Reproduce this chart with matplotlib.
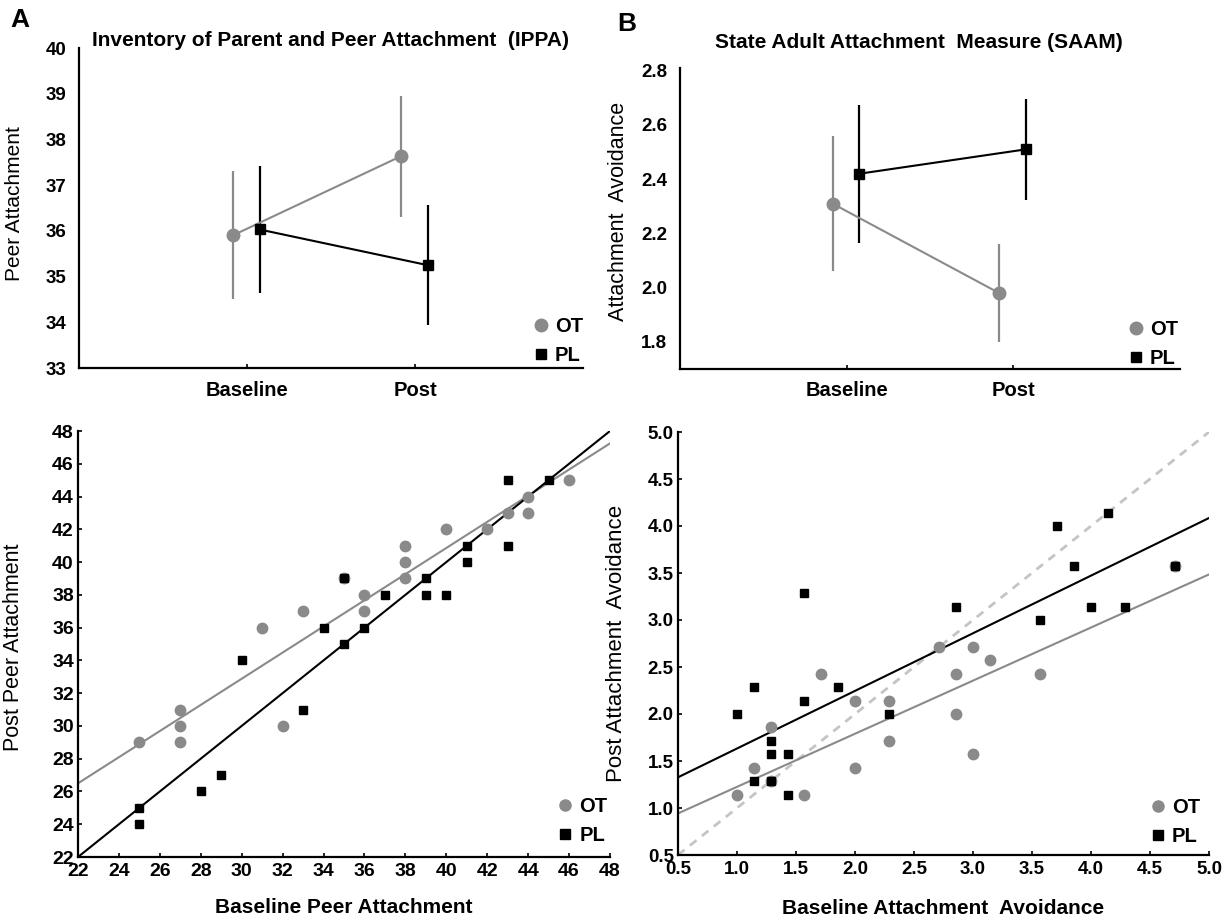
import numpy as np
import matplotlib.pyplot as plt
from matplotlib.lines import Line2D

plt.rcParams['font.family'] = ['Liberation Sans', 'DejaVu Sans']

GRAY = '#8a8a8a'
BLACK = '#000000'

# ---- top panels: group means with error bars ----
TIMES = ['Baseline', 'Post']

IPPA_OT_MEAN = [35.9, 37.63]
IPPA_OT_ERR = [1.4, 1.33]
IPPA_PL_MEAN = [36.03, 35.25]
IPPA_PL_ERR = [1.38, 1.32]

SAAM_OT_MEAN = [2.31, 1.98]
SAAM_OT_ERR = [0.25, 0.18]
SAAM_PL_MEAN = [2.42, 2.51]
SAAM_PL_ERR = [0.255, 0.185]

# ---- bottom left: baseline vs post peer attachment ----
IPPA_OT_BASE = [25, 27, 27, 27, 31, 32, 33, 35, 36, 36, 38, 38, 38, 40, 42, 43, 44, 44, 46]
IPPA_OT_POST = [29, 31, 30, 29, 36, 30, 37, 39, 38, 37, 41, 40, 39, 42, 42, 43, 44, 43, 45]
IPPA_PL_BASE = [25, 25, 28, 29, 30, 33, 34, 35, 35, 36, 37, 39, 39, 40, 41, 41, 43, 43, 45]
IPPA_PL_POST = [25, 24, 26, 27, 34, 31, 36, 35, 39, 36, 38, 39, 38, 38, 41, 40, 45, 41, 45]
IPPA_OT_FIT = (0.798, 8.94)   # slope, intercept
IPPA_PL_FIT = (1.0, 0.0)

# ---- bottom right: baseline vs post attachment avoidance ----
SAAM_OT_BASE = [1.0, 1.14, 1.29, 1.29, 1.57, 1.71, 2.0, 2.0, 2.29, 2.29, 2.71, 2.86, 2.86,
                3.0, 3.0, 3.14, 3.57, 4.71]
SAAM_OT_POST = [1.14, 1.43, 1.86, 1.29, 1.14, 2.43, 2.14, 1.43, 2.14, 1.71, 2.71, 2.43, 2.0,
                2.71, 1.57, 2.57, 2.43, 3.57]
SAAM_PL_BASE = [1.0, 1.14, 1.14, 1.29, 1.29, 1.29, 1.43, 1.43, 1.57, 1.57, 1.86, 2.29, 2.86,
                3.57, 3.71, 3.86, 4.0, 4.14, 4.29, 4.71]
SAAM_PL_POST = [2.0, 2.29, 1.29, 1.71, 1.57, 1.29, 1.57, 1.14, 3.29, 2.14, 2.29, 2.0, 3.14,
                3.0, 4.0, 3.57, 3.14, 4.14, 3.14, 3.57]
SAAM_OT_FIT = (0.565, 0.66)
SAAM_PL_FIT = (0.613, 1.02)

W, H = 1230, 921


def rect(left, right, top, bottom):
    return [left / W, 1 - bottom / H, (right - left) / W, (bottom - top) / H]


def style_axes(ax, tick_size):
    for s in ['top', 'right']:
        ax.spines[s].set_visible(False)
    for s in ['left', 'bottom']:
        ax.spines[s].set_linewidth(1.6)
    ax.tick_params(direction='in', length=3, width=1.2, labelsize=tick_size)
    for lbl in ax.get_xticklabels() + ax.get_yticklabels():
        lbl.set_fontweight('bold')


def add_legend(ax, ms_c, ms_s, anchor):
    handles = [
        Line2D([], [], ls='none', marker='o', color=GRAY, ms=ms_c),
        Line2D([], [], ls='none', marker='s', color=BLACK, ms=ms_s),
    ]
    ax.legend(handles, ['OT', 'PL'], loc='lower right', bbox_to_anchor=anchor,
              frameon=False, handletextpad=0.2, handlelength=1.0, labelspacing=0.5,
              borderpad=0, prop={'weight': 'bold', 'size': 14.5}, borderaxespad=0)


def means_panel(ax, ot_m, ot_e, pl_m, pl_e, ylim, yticks, fmt):
    x = np.arange(1, len(TIMES) + 1)
    ax.errorbar(x - 0.085, ot_m, yerr=ot_e, color=GRAY, marker='o', ms=9,
                lw=1.5, elinewidth=1.6, capsize=0)
    ax.errorbar(x + 0.075, pl_m, yerr=pl_e, color=BLACK, marker='s', ms=7.5,
                lw=1.5, elinewidth=1.6, capsize=0)
    ax.set_xlim(0, 3)
    ax.set_ylim(*ylim)
    ax.set_xticks(x)
    ax.set_xticklabels(TIMES)
    ax.set_yticks(yticks)
    ax.set_yticklabels([fmt.format(v) for v in yticks])
    style_axes(ax, 13.5)
    ax.tick_params(axis='y', length=0, pad=9)
    ax.tick_params(axis='x', pad=9, labelsize=14.5)


fig = plt.figure(figsize=(12.3, 9.21), dpi=100)

# A top
axA = fig.add_axes(rect(79, 583, 48, 368))
means_panel(axA, IPPA_OT_MEAN, IPPA_OT_ERR, IPPA_PL_MEAN, IPPA_PL_ERR,
            (33, 40), np.arange(33, 41, 1), '{:.0f}')
axA.set_ylabel('Peer Attachment', fontsize=15)
axA.yaxis.set_label_coords((24 - 79) / 504, 0.515)
add_legend(axA, 9, 7.5, (1.0, 0.01))

# B top
axB = fig.add_axes(rect(680, 1180, 68, 369))
means_panel(axB, SAAM_OT_MEAN, SAAM_OT_ERR, SAAM_PL_MEAN, SAAM_PL_ERR,
            (1.7, 2.81), np.arange(1.8, 2.81, 0.2), '{:.1f}')
axB.set_ylabel('Attachment  Avoidance', fontsize=15.5)
axB.yaxis.set_label_coords((629 - 680) / 500, 0.525)
add_legend(axB, 9, 7.5, (0.996, 0.004))

fig.text(20 / W, 1 - 20 / H, 'A', fontsize=19, fontweight='bold', va='center', ha='center')
fig.text(627 / W, 1 - 24 / H, 'B', fontsize=19, fontweight='bold', va='center', ha='center')
fig.text(331 / W, 1 - 40 / H, 'Inventory of Parent and Peer Attachment  (IPPA)',
         fontsize=15, fontweight='bold', ha='center', va='center')
fig.text(919 / W, 1 - 43 / H, 'State Adult Attachment  Measure (SAAM)',
         fontsize=15, fontweight='bold', ha='center', va='center')

# bottom left
axC = fig.add_axes(rect(78, 610, 431, 857))
xs = np.array([22, 48])
axC.plot(xs, IPPA_OT_FIT[0] * xs + IPPA_OT_FIT[1], color=GRAY, lw=1.5)
axC.plot(xs, IPPA_PL_FIT[0] * xs + IPPA_PL_FIT[1], color=BLACK, lw=1.5)
axC.plot(IPPA_OT_BASE, IPPA_OT_POST, ls='none', marker='o', color=GRAY, ms=7.5)
axC.plot(IPPA_PL_BASE, IPPA_PL_POST, ls='none', marker='s', color=BLACK, ms=6)
axC.set_xlim(22, 48)
axC.set_ylim(22, 48)
axC.set_xticks(np.arange(22, 49, 2))
axC.set_yticks(np.arange(22, 49, 2))
style_axes(axC, 14)
axC.tick_params(axis='y', pad=3)
axC.tick_params(axis='x', pad=4)
axC.set_xlabel('Baseline Peer Attachment', fontsize=15, fontweight='bold', va='center')
axC.xaxis.set_label_coords(0.5, -(907 - 857) / 426)
axC.set_ylabel('Post Peer Attachment', fontsize=15.5)
axC.yaxis.set_label_coords((24 - 78) / 532, 0.493)
add_legend(axC, 8, 6.5, (0.995, 0.028))

# bottom right
axD = fig.add_axes(rect(678, 1209, 432, 855))
xs = np.array([0.5, 5.0])
axD.plot(xs, xs, color='#c4c4c4', lw=2, ls=(0, (3, 2.5)))
axD.plot(xs, SAAM_OT_FIT[0] * xs + SAAM_OT_FIT[1], color=GRAY, lw=1.5)
axD.plot(xs, SAAM_PL_FIT[0] * xs + SAAM_PL_FIT[1], color=BLACK, lw=1.5)
axD.plot(SAAM_OT_BASE, SAAM_OT_POST, ls='none', marker='o', color=GRAY, ms=7.5)
axD.plot(SAAM_PL_BASE, SAAM_PL_POST, ls='none', marker='s', color=BLACK, ms=6)
axD.set_xlim(0.5, 5.0)
axD.set_ylim(0.5, 5.0)
ticks = np.arange(0.5, 5.01, 0.5)
axD.set_xticks(ticks)
axD.set_yticks(ticks)
axD.set_xticklabels(['{:.1f}'.format(t) for t in ticks])
axD.set_yticklabels(['{:.1f}'.format(t) for t in ticks])
style_axes(axD, 13.5)
axD.tick_params(axis='y', pad=3)
axD.tick_params(axis='x', pad=4)
axD.set_xlabel('Baseline Attachment  Avoidance', fontsize=15, fontweight='bold', va='center')
axD.xaxis.set_label_coords(0.5, -(908 - 855) / 423)
axD.set_ylabel('Post Attachment  Avoidance', fontsize=16)
axD.yaxis.set_label_coords((627 - 678) / 531, 0.5)
add_legend(axD, 8, 6.5, (0.983, 0.021))

fig.savefig('out.png', dpi=100)
